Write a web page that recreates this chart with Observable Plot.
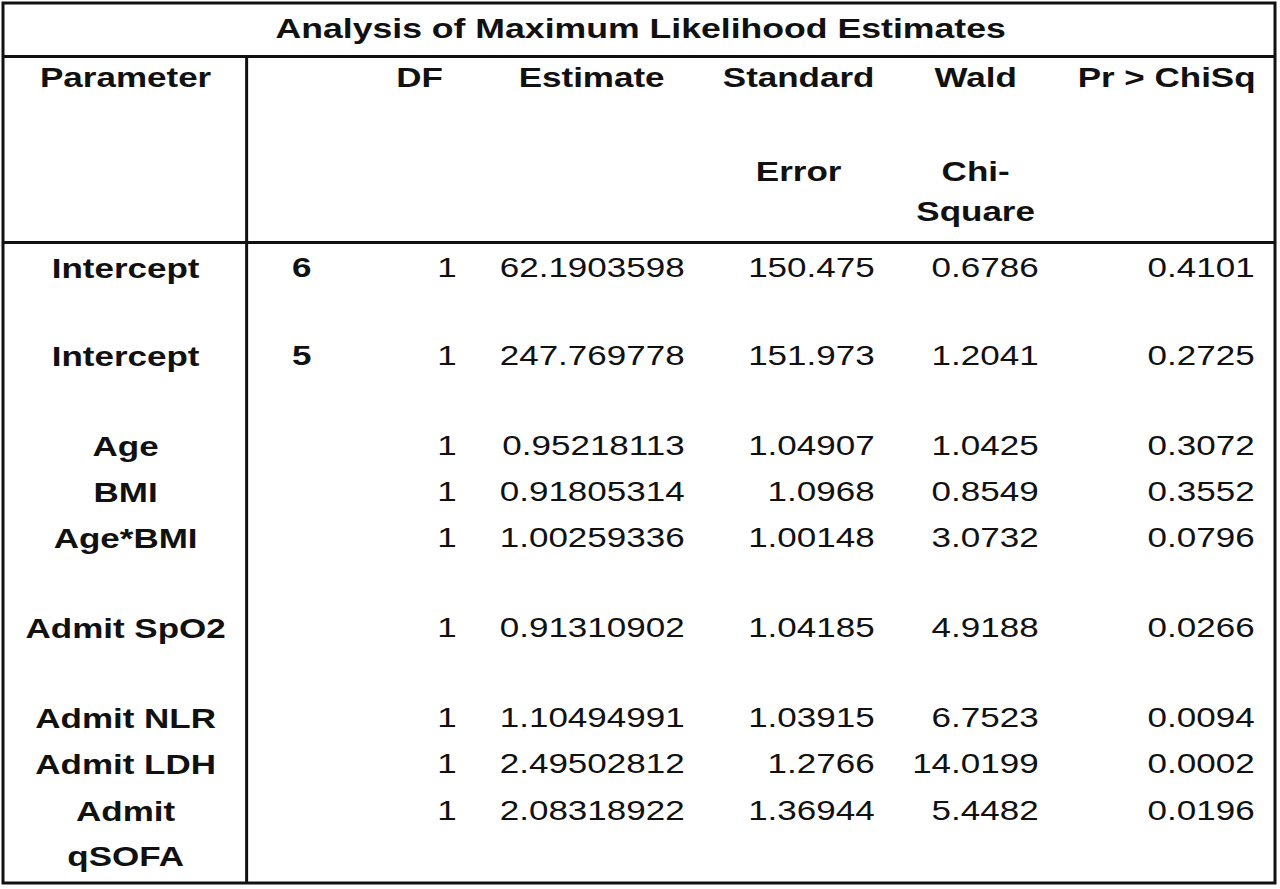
<!DOCTYPE html>
<html>
<head>
<meta charset="utf-8">
<script src="https://cdn.jsdelivr.net/npm/d3@7"></script>
<script src="https://cdn.jsdelivr.net/npm/@observablehq/plot@0.6"></script>
<style>
  html, body { margin: 0; padding: 0; background: #fff; }
  #chart { width: 1280px; height: 889px; overflow: hidden; }
</style>
</head>
<body>
<div id="chart"></div>
<script>
// ---------- data ----------
const title = "Analysis of Maximum Likelihood Estimates";
const headerLine1 = ["Parameter", "", "DF", "Estimate", "Standard", "Wald", "Pr > ChiSq"];
const headerLine2 = ["", "", "", "", "Error", "Chi-", ""];
const headerLine3 = ["", "", "", "", "", "Square", ""];
const parameters = ["Intercept", "Intercept", "Age", "BMI", "Age*BMI", "Admit SpO2", "Admit NLR", "Admit LDH", "Admit qSOFA"];
const levels = ["6", "5", "", "", "", "", "", "", ""];
const dfValues = [1, 1, 1, 1, 1, 1, 1, 1, 1];
const estimates = [62.1903598, 247.769778, 0.95218113, 0.91805314, 1.00259336, 0.91310902, 1.10494991, 2.49502812, 2.08318922];
const stdErrors = [150.475, 151.973, 1.04907, 1.0968, 1.00148, 1.04185, 1.03915, 1.2766, 1.36944];
const waldChiSq = [0.6786, 1.2041, 1.0425, 0.8549, 3.0732, 4.9188, 6.7523, 14.0199, 5.4482];
const pValues = [0.4101, 0.2725, 0.3072, 0.3552, 0.0796, 0.0266, 0.0094, 0.0002, 0.0196];

// ---------- layout (reference pixel space) ----------
const W = 1280, H = 889, stretch = 1.25;          // glyphs in the reference are stretched horizontally
const fontFamily = "'Liberation Sans', Arial, Helvetica, sans-serif";
const fontSize = 28;
const ink = "#111";
const headerCenters = [125, 301, 419, 591, 798, 975, 1166];
const headerY = [78, 172, 212];
const rowY = [268, 356, 446, 492, 538, 628, 718, 764, 811];
const paramTopOffset = 12;                          // top-anchored (wrapping) parameter labels
const levelX = 301;
const valueRight = [456, 684, 874, 1038, 1254];     // right edges of DF, Estimate, SE, Wald, Pr
const box = {x1: 3, x2: 1275, y1: 3, y2: 883};
const titleY = 28, titleBottom = 56, headerBottom = 242, paramSep = 246;
const fmt4 = v => v.toFixed(4);

// ---------- build tables for marks ----------
const headerRows = [];
[headerLine1, headerLine2, headerLine3].forEach((line, li) =>
  line.forEach((t, ci) => { if (t) headerRows.push({text: t, x: headerCenters[ci], y: headerY[li]}); }));

const paramRows = parameters.map((p, i) => ({text: p, x: headerCenters[0], y: rowY[i] - paramTopOffset}));
const levelRows = levels.map((l, i) => ({text: l, x: levelX, y: rowY[i]})).filter(d => d.text);
const valueCols = [
  dfValues.map(String),
  estimates.map(String),
  stdErrors.map(String),
  waldChiSq.map(fmt4),
  pValues.map(fmt4)
];
const valueRows = [];
valueCols.forEach((col, ci) => col.forEach((t, i) => valueRows.push({text: t, x: valueRight[ci], y: rowY[i]})));

const hLines = [
  {y: titleBottom, x1: box.x1, x2: box.x2},
  {y: headerBottom, x1: box.x1, x2: box.x2}
];
const vLines = [{x: paramSep, y1: titleBottom, y2: box.y2}];

const plot = Plot.plot({
  width: W / stretch,
  height: H,
  margin: 0,
  x: {domain: [0, W], range: [0, W / stretch], axis: null},
  y: {domain: [0, H], range: [0, H], axis: null},
  style: {fontFamily, background: "#fff"},
  marks: [
    Plot.rect([box], {x1: "x1", x2: "x2", y1: "y1", y2: "y2", fill: "none", stroke: ink, strokeWidth: 3}),
    Plot.ruleY(hLines, {y: "y", x1: "x1", x2: "x2", stroke: ink, strokeWidth: 3}),
    Plot.ruleX(vLines, {x: "x", y1: "y1", y2: "y2", stroke: ink, strokeWidth: 3}),
    Plot.text([title], {x: W / 2, y: titleY, text: d => d, fontSize: 28.5, fontWeight: "bold", fill: ink, textAnchor: "middle"}),
    Plot.text(headerRows, {x: "x", y: "y", text: "text", fontSize, fontWeight: "bold", fill: ink, textAnchor: "middle"}),
    Plot.text(paramRows, {x: "x", y: "y", text: "text", fontSize, fontWeight: "bold", fill: ink, textAnchor: "middle",
      lineAnchor: "top", dy: -11, lineWidth: 5.8, lineHeight: 1.62}),
    Plot.text(levelRows, {x: "x", y: "y", text: "text", fontSize, fontWeight: "bold", fill: ink, textAnchor: "middle"}),
    Plot.text(valueRows, {x: "x", y: "y", text: "text", fontSize, fill: ink, textAnchor: "end"})
  ]
});

plot.setAttribute("width", W);
plot.setAttribute("height", H);
plot.setAttribute("preserveAspectRatio", "none");
plot.style.width = W + "px";
plot.style.height = H + "px";
plot.style.maxWidth = "none";
plot.querySelectorAll("rect, line, path").forEach(e => e.setAttribute("vector-effect", "non-scaling-stroke"));
document.getElementById("chart").appendChild(plot);
</script>
</body>
</html>
